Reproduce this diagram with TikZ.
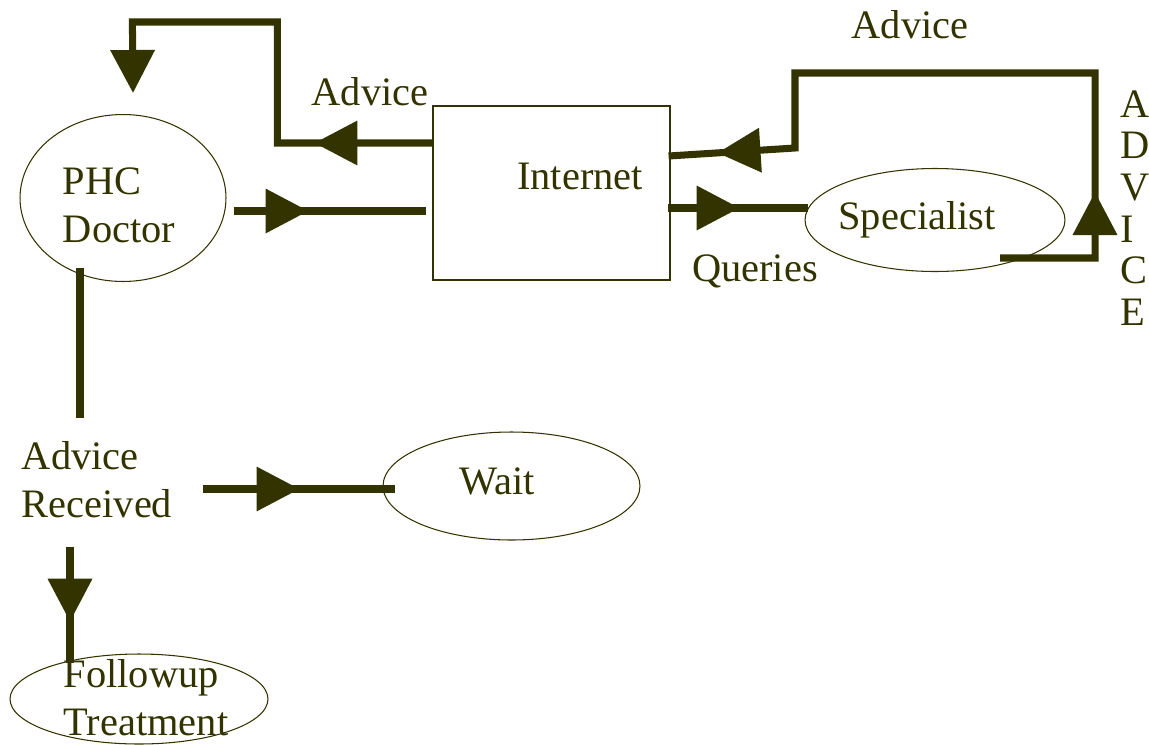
\documentclass[tikz,border=0pt]{standalone}
\usepackage{fontspec}
\setmainfont{Liberation Serif}
\usetikzlibrary{arrows.meta,shapes.geometric,decorations.markings}
\definecolor{inkolive}{RGB}{51,51,0}
\tikzset{headtip/.tip={Triangle[length=0.86cm,width=0.86cm]}}

\begin{document}
\begin{tikzpicture}[
  x=0.02cm, y=-0.02cm,
  oval/.style={draw=inkolive, ellipse, line width=0.6pt, inner sep=0pt},
  netbox/.style={draw=inkolive, line width=0.7pt, inner sep=0pt, minimum width=4.74cm, minimum height=3.48cm},
  txt/.style={text=inkolive, font=\fontsize{23}{27.5}\selectfont, align=left, inner sep=0pt},
  flow/.style={color=inkolive, line width=4pt},
  midhead/.style={postaction={decorate, decoration={markings, mark=at position #1 with {\arrow{headtip}}}}}
]
\useasboundingbox (0,0) rectangle (1149,744);

\node[oval, minimum width=4.12cm, minimum height=3.34cm] (doc) at (123,198) {};
\node[netbox] (net) at (551.5,193) {};
\node[oval, minimum width=5.2cm, minimum height=2.06cm] (spec) at (935,220) {};
\node[oval, minimum width=5.14cm, minimum height=2.16cm] (wait) at (511.5,486) {};
\node[oval, minimum width=5.16cm, minimum height=1.8cm] (follow) at (139,699) {};

\node[txt] (doctxt) at (119,205) {PHC\\Doctor};
\node[txt] (nettxt) at (580,176) {Internet};
\node[txt] (spectxt) at (917,220) {Specialist};
\node[txt] (waittxt) at (497,481) {Wait};
\node[txt] (followtxt) at (146,698) {Followup\\Treatment};
\node[txt] (recv) at (97,480) {Advice\\Received};
\node[txt] (advleft) at (370,92) {Advice};
\node[txt] (advtop) at (910,25) {Advice};
\node[txt] (queries) at (755,271) {Queries};
\foreach \ch [count=\i from 0] in {A,D,V,I,C,E}
  \node[txt, anchor=west] (adv\i) at (1120,104+41.6*\i) {\ch};

\draw[flow, midhead=1.5cm] ([shift={(7,13)}]doc.east) -- ([shift={(-6,18)}]net.west);
\draw[flow, midhead=2.36cm, -{headtip}] ([shift={(0,-50)}]net.west) -- ++(-155,0) -- ++(0,-121) -- ++(-145,0) -- ([shift={(10,-21)}]doc.north);
\draw[flow, midhead=1.44cm] ([shift={(-3,15)}]net.east) -- ([shift={(3,-12)}]spec.west);
\draw[flow, midhead=3.22cm, midhead=-0.98cm] ([shift={(65,38)}]spec.center) -- ++(95,0) -- ++(0,-185) -- ++(-300,0) -- ++(0,75) -- ([shift={(-2,-37)}]net.east);
\draw[flow] ([shift={(-43,70)}]doc.center) -- ++(0,150);
\draw[flow, midhead=1.94cm] ([shift={(30,9)}]recv.east) -- ([shift={(12,3)}]wait.west);
\draw[flow, midhead=1.5cm] ([shift={(-27,28)}]recv.south) -- ([shift={(-69,10)}]follow.north);
\end{tikzpicture}
\end{document}
